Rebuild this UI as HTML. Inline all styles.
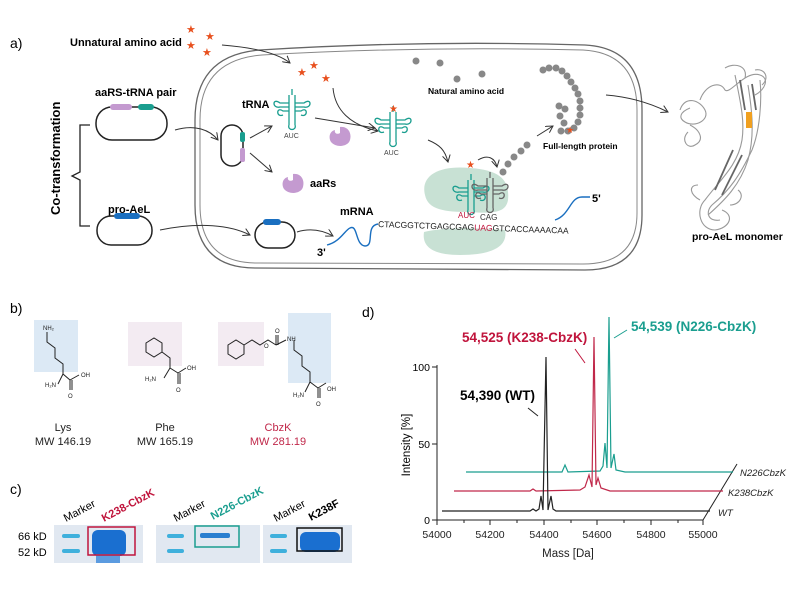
<!DOCTYPE html>
<html><head><meta charset="utf-8"><style>
body{margin:0;background:#fff}
svg{display:block;font-family:"Liberation Sans",Arial,sans-serif}
.b{font-weight:bold}
</style></head><body>
<svg width="798" height="593" viewBox="0 0 798 593" xmlns="http://www.w3.org/2000/svg">
<defs>
<marker id="ar" markerWidth="8" markerHeight="8" refX="7" refY="4" orient="auto" markerUnits="userSpaceOnUse"><path d="M0,0 L7,4 L0,8" fill="none" stroke="#333" stroke-width="1"/></marker>
<g id="trna" fill="none" stroke-width="1.3">
<path d="M-3,0 L-3,-14 L-9,-14 C-16,-19 -16,-7 -9,-10 M3,0 L3,-14 L9,-14 C16,-19 16,-7 9,-10 M-3,-14 L-3,-30 M3,-14 L3,-30 M-3,-22 L-12,-22 C-20,-28 -20,-16 -12,-18 L-3,-18 M3,-22 L12,-22 C20,-28 20,-16 12,-18 L3,-18 M0,-30 L0,-36 M-3,0 C-5,6 5,6 3,0"/>
</g>
<path id="aars" d="M0,-9 C8,-10 12,-3 10,4 C8,11 -4,12 -9,6 C-12,1 -10,-5 -5,-6 C-6,-3 -3,-1 0,-3 Z" fill="#c49ad0"/>
</defs>

<!-- panel a -->
<text x="10" y="48" font-size="14">a)</text>
<text x="70" y="46" font-size="11" class="b">Unnatural amino acid</text>
<g fill="#e8501e" font-size="11">
<text x="186" y="33">★</text><text x="205" y="40">★</text><text x="186" y="49">★</text><text x="202" y="56">★</text>
<text x="297" y="76">★</text><text x="309" y="69">★</text><text x="321" y="82">★</text>
</g>
<!-- cell -->
<path d="M260,50 Q420,40 585,45 Q642,48 642,110 L642,215 Q642,270 585,270 L255,268 Q195,268 195,205 L195,120 Q195,55 260,50 Z" fill="none" stroke="#666" stroke-width="1.3"/>
<path d="M262,55 Q420,46 583,50 Q637,53 637,110 L637,213 Q637,264 583,264 L257,263 Q200,263 200,205 L200,120 Q200,60 262,55 Z" fill="none" stroke="#888" stroke-width="1"/>
<path d="M222,45 C260,48 280,55 290,63" fill="none" stroke="#333" marker-end="url(#ar)"/>
<path d="M333,88 C335,110 350,125 378,131" fill="none" stroke="#333" marker-end="url(#ar)"/>

<text x="95" y="96" font-size="11" class="b">aaRS-tRNA pair</text>
<rect x="96" y="107" width="71" height="33" rx="16" fill="none" stroke="#222" stroke-width="1.5"/>
<rect x="110" y="104" width="22" height="6" rx="3" fill="#c49ad0"/>
<rect x="138" y="104" width="16" height="6" rx="3" fill="#1a9e8f"/>
<text transform="translate(60,215) rotate(-90)" font-size="13" class="b">Co-transformation</text>
<path d="M90,125 L80,125 L80,172 L72,176 L80,180 L80,226 L90,226" fill="none" stroke="#222" stroke-width="1.3"/>
<text x="108" y="213" font-size="11" class="b">pro-AeL</text>
<rect x="97" y="216" width="55" height="29" rx="14" fill="none" stroke="#222" stroke-width="1.5"/>
<rect x="114" y="213" width="26" height="6" rx="3" fill="#1a6fc0"/>
<path d="M160,230 C200,222 230,225 250,235" fill="none" stroke="#333" marker-end="url(#ar)"/>
<path d="M175,130 C195,124 210,130 218,140" fill="none" stroke="#333" marker-end="url(#ar)"/>

<rect x="221" y="125" width="22" height="41" rx="11" fill="none" stroke="#222" stroke-width="1.5"/>
<rect x="240" y="132" width="5" height="10" rx="2" fill="#1a9e8f"/>
<rect x="240" y="148" width="5" height="14" rx="2" fill="#c49ad0"/>
<line x1="250" y1="138" x2="272" y2="126" stroke="#333" marker-end="url(#ar)"/>
<line x1="250" y1="153" x2="272" y2="172" stroke="#333" marker-end="url(#ar)"/>
<text x="242" y="108" font-size="11" class="b">tRNA</text>
<use href="#trna" x="292" y="125" stroke="#1a9e8f"/>
<text x="284" y="138" font-size="7" fill="#444">AUC</text>
<use href="#aars" x="340" y="136"/>
<use href="#aars" x="293" y="183"/>
<text x="310" y="187" font-size="11" class="b">aaRs</text>
<line x1="315" y1="118" x2="375" y2="128" stroke="#333" marker-end="url(#ar)"/>
<use href="#trna" x="393" y="142" stroke="#1a9e8f"/>
<text x="384" y="155" font-size="7" fill="#444">AUC</text>
<text x="389" y="112" font-size="10" fill="#e8501e">★</text>
<path d="M428,140 C440,145 445,150 448,162" fill="none" stroke="#333" marker-end="url(#ar)"/>

<text x="340" y="215" font-size="11" class="b">mRNA</text>
<rect x="255" y="222" width="40" height="26" rx="13" fill="none" stroke="#222" stroke-width="1.5"/>
<rect x="263" y="219" width="18" height="6" rx="3" fill="#1a6fc0"/>
<path d="M297,232 C310,228 322,230 333,236" fill="none" stroke="#333" marker-end="url(#ar)"/>
<path d="M327,245 C340,242 345,230 350,228 C358,224 355,245 365,246 C375,246 365,226 378,224" fill="none" stroke="#1a6fc0" stroke-width="1.4"/>
<text x="317" y="256" font-size="11" class="b">3'</text>
<!-- ribosome -->
<path d="M425,195 C420,175 440,165 470,168 C500,170 510,180 508,200 C506,212 495,214 470,212 C445,212 428,210 425,195 Z" fill="#c8e1d4"/>
<path d="M424,232 C440,228 470,227 505,230 C508,245 495,255 460,255 C430,255 422,245 424,232 Z" fill="#c8e1d4"/>
<text x="378" y="227" font-size="8.5" fill="#222" transform="rotate(2 378 227)">CTACGGTCTGAGCGAG<tspan fill="#c0143c">UAG</tspan>GTCACCAAAACAA</text>
<path d="M555,220 C570,215 570,197 582,197 L590,197" fill="none" stroke="#1a6fc0" stroke-width="1.4"/>
<text x="592" y="202" font-size="11" class="b">5'</text>
<use href="#trna" x="471" y="210" stroke="#1a9e8f"/>
<text x="458" y="218" font-size="8" fill="#c0143c">AUC</text>
<text x="466" y="168" font-size="10" fill="#e8501e">★</text>
<use href="#trna" x="490" y="208" stroke="#666"/>
<text x="480" y="220" font-size="8" fill="#333">CAG</text>
<path d="M478,160 C488,154 495,158 497,167" fill="none" stroke="#333" marker-end="url(#ar)"/>
<!-- natural aa -->
<g fill="#888">
<circle cx="416" cy="61" r="3.5"/><circle cx="440" cy="63" r="3.5"/><circle cx="457" cy="79" r="3.5"/><circle cx="482" cy="74" r="3.5"/>
<circle cx="503" cy="172" r="3.5"/><circle cx="508" cy="164" r="3.5"/><circle cx="514" cy="157" r="3.5"/><circle cx="521" cy="151" r="3.5"/><circle cx="527" cy="145" r="3.5"/>
<circle cx="543" cy="70" r="3.5"/><circle cx="549" cy="68" r="3.5"/><circle cx="556" cy="68" r="3.5"/><circle cx="562" cy="71" r="3.5"/><circle cx="567" cy="76" r="3.5"/><circle cx="571" cy="82" r="3.5"/><circle cx="575" cy="88" r="3.5"/><circle cx="578" cy="94" r="3.5"/><circle cx="580" cy="101" r="3.5"/><circle cx="580" cy="108" r="3.5"/><circle cx="580" cy="115" r="3.5"/><circle cx="578" cy="122" r="3.5"/><circle cx="574" cy="128" r="3.5"/><circle cx="568" cy="131" r="3.5"/><circle cx="561" cy="131" r="3.5"/><circle cx="565" cy="109" r="3.5"/><circle cx="559" cy="106" r="3.5"/><circle cx="564" cy="123" r="3.5"/><circle cx="560" cy="116" r="3.5"/>
</g>
<text x="566" y="133" font-size="9" fill="#e8501e">★</text>
<text x="428" y="94" font-size="8.5" class="b">Natural amino acid</text>
<line x1="537" y1="136" x2="553" y2="126" stroke="#333" marker-end="url(#ar)"/>
<text x="543" y="149" font-size="8.5" class="b">Full-length protein</text>
<path d="M606,95 C630,97 650,103 668,112" fill="none" stroke="#333" marker-end="url(#ar)"/>
<!-- protein -->
<g fill="none" stroke="#999" stroke-width="1.1">
<path d="M680,110 C685,95 700,100 705,110 C710,120 695,128 685,122 C678,118 680,112 690,108"/>
<path d="M700,100 C705,85 720,80 725,90 C730,95 745,70 760,75 C770,78 765,90 755,95"/>
<path d="M735,75 C740,100 745,120 742,140 C738,165 720,180 705,200 C695,210 700,230 715,230 C730,228 735,215 722,210"/>
<path d="M748,85 C752,110 755,135 748,160 C740,185 725,200 708,215"/>
<path d="M760,80 C762,100 760,130 752,150 C740,175 730,190 712,205 C705,212 708,222 720,220"/>
<path d="M690,125 C700,130 705,140 695,145 C688,150 680,140 688,132"/>
<path d="M725,68 C735,62 748,66 745,78 M755,70 C765,68 770,78 762,85 M700,200 C690,195 688,185 698,185 M730,205 C740,205 745,195 738,190"/>
</g>
<g fill="none" stroke="#666" stroke-width="1.8">
<path d="M740,80 L745,110 M752,84 L756,110 M733,150 L715,190 M742,155 L722,195"/>
</g>
<rect x="746" y="112" width="6" height="16" fill="#f0a020"/>
<text x="692" y="240" font-size="10.5" class="b">pro-AeL monomer</text>

<!-- panel b -->
<text x="10" y="313" font-size="14">b)</text>
<rect x="34" y="320" width="44" height="52" fill="#dce9f5"/>
<rect x="128" y="322" width="54" height="44" fill="#f3ebf2"/>
<rect x="218" y="322" width="46" height="44" fill="#f3ebf2"/>
<rect x="288" y="313" width="43" height="70" fill="#dce9f5"/>
<g fill="none" stroke="#222" stroke-width="1">
<path d="M47,332 L47,342 L55,348 L55,358 L63,364 L63,374 L70,380 M63,374 L58,384 M70,380 L79,375 M70,380 L70,390 M72,380 L72,390"/>
<path d="M146,343 L154,338 L162,343 L162,352 L154,357 L146,352 Z M162,352 L170,358 L170,368 L178,373 M170,368 L164,378 M178,373 L186,368 M178,373 L178,384 M180,373 L180,384"/>
<path d="M228,345 L236,340 L244,345 L244,354 L236,359 L228,354 Z M244,345 L252,340 L260,345 L268,340 L276,345 M276,345 L276,335 M278,345 L278,335 M276,345 L286,340 M294,340 L294,350 L302,356 L302,366 L310,372 L310,382 L318,388 M310,382 L305,392 M318,388 L326,383 M318,388 L318,398 M320,388 L320,398"/>
</g>
<g font-size="6" fill="#222"><text x="43" y="330">NH₂</text><text x="45" y="387">H₂N</text><text x="81" y="377">OH</text><text x="68" y="398">O</text>
<text x="145" y="381">H₂N</text><text x="187" y="370">OH</text><text x="176" y="392">O</text>
<text x="275" y="333">O</text><text x="264" y="348">O</text><text x="287" y="341">NH</text><text x="293" y="397">H₂N</text><text x="327" y="391">OH</text><text x="316" y="406">O</text></g>
<g font-size="11" text-anchor="middle" fill="#222">
<text x="63" y="431">Lys</text><text x="63" y="445">MW 146.19</text>
<text x="165" y="431">Phe</text><text x="165" y="445">MW 165.19</text>
<text x="278" y="431" fill="#c0284a">CbzK</text><text x="278" y="445" fill="#c0284a">MW 281.19</text>
</g>

<!-- panel c -->
<text x="10" y="494" font-size="14">c)</text>
<text x="18" y="540" font-size="11">66 kD</text><text x="18" y="556" font-size="11">52 kD</text>
<rect x="54" y="525" width="89" height="38" fill="#e1e8f1"/>
<rect x="156" y="525" width="104" height="38" fill="#e1e8f1"/>
<rect x="263" y="525" width="89" height="38" fill="#e1e8f1"/>
<g fill="#3fb0dc">
<rect x="62" y="534" width="18" height="4" rx="2"/><rect x="62" y="549" width="18" height="4" rx="2"/>
<rect x="167" y="534" width="17" height="4" rx="2"/><rect x="167" y="549" width="17" height="4" rx="2"/>
<rect x="270" y="534" width="17" height="4" rx="2"/><rect x="270" y="549" width="17" height="4" rx="2"/>
</g>
<rect x="92" y="530" width="34" height="26" rx="6" fill="#1a6fd0"/>
<rect x="96" y="554" width="24" height="9" fill="#5b9be0"/>
<rect x="200" y="533" width="30" height="5" rx="2" fill="#2a7fd0"/>
<rect x="300" y="532" width="40" height="20" rx="6" fill="#1a6fd0"/>
<rect x="88" y="527" width="47" height="28" fill="none" stroke="#c0143c" stroke-width="1.5"/>
<rect x="195" y="526" width="44" height="21" fill="none" stroke="#1a9e8f" stroke-width="1.5"/>
<rect x="297" y="528" width="45" height="23" fill="none" stroke="#111" stroke-width="1.5"/>
<g font-size="11">
<text transform="translate(66,522) rotate(-28)">Marker</text>
<text transform="translate(104,522) rotate(-28)" fill="#c0143c" class="b">K238-CbzK</text>
<text transform="translate(176,522) rotate(-28)">Marker</text>
<text transform="translate(213,520) rotate(-28)" fill="#1a9e8f" class="b">N226-CbzK</text>
<text transform="translate(276,522) rotate(-28)">Marker</text>
<text transform="translate(311,521) rotate(-28)" class="b">K238F</text>
</g>

<!-- panel d -->
<text x="362" y="317" font-size="14">d)</text>
<g stroke="#222" stroke-width="1" fill="none">
<line x1="437" y1="365" x2="437" y2="521"/><line x1="437" y1="520" x2="703" y2="520"/>
<line x1="432" y1="367" x2="437" y2="367"/><line x1="432" y1="444" x2="437" y2="444"/><line x1="432" y1="520" x2="437" y2="520"/>
<line x1="703" y1="520" x2="737" y2="464"/>
<path d="M437,520v5 M464,520v3 M490,520v5 M517,520v3 M544,520v5 M571,520v3 M597,520v5 M624,520v3 M651,520v5 M678,520v3 M703,520v5"/>
</g>
<g font-size="10.5" text-anchor="middle" fill="#222">
<text x="437" y="538">54000</text><text x="490" y="538">54200</text><text x="544" y="538">54400</text><text x="597" y="538">54600</text><text x="651" y="538">54800</text><text x="703" y="538">55000</text>
<text x="568" y="557" font-size="11.5">Mass [Da]</text>
</g>
<g font-size="10.5" text-anchor="end"><text x="430" y="371">100</text><text x="430" y="448">50</text><text x="430" y="524">0</text></g>
<text transform="translate(410,445) rotate(-90)" font-size="11.5" text-anchor="middle">Intensity [%]</text>
<polyline fill="none" stroke="#1a9e8f" stroke-width="1.2" points="466,472 562,472 565,465 568,472 600,471 603,466 605,443 607,468 609,317 611,468 614,454 616,470 625,472 733,472"/>
<polyline fill="none" stroke="#c0284a" stroke-width="1.2" points="454,491 530,491 533,489 536,491 580,490 585,487 589,475 592,487 594,337 596,485 598,478 601,488 610,491 723,491"/>
<polyline fill="none" stroke="#222" stroke-width="1.2" points="442,511 530,511 533,509 536,511 539,509 541,496 543,510 546,357 548,510 551,496 553,509 556,511 710,511"/>
<line x1="528" y1="408" x2="538" y2="416" stroke="#222"/>
<line x1="575" y1="349" x2="585" y2="363" stroke="#c0143c"/>
<line x1="614" y1="338" x2="627" y2="330" stroke="#1a9e8f"/>
<text x="460" y="400" font-size="13.5" class="b">54,390 (WT)</text>
<text x="462" y="342" font-size="13.5" class="b" fill="#c0143c">54,525 (K238-CbzK)</text>
<text x="631" y="331" font-size="13.5" class="b" fill="#1a9e8f">54,539 (N226-CbzK)</text>
<g font-size="9.5" font-style="italic" fill="#222"><text x="740" y="476">N226CbzK</text><text x="728" y="496">K238CbzK</text><text x="718" y="516">WT</text></g>
</svg>
</body></html>
